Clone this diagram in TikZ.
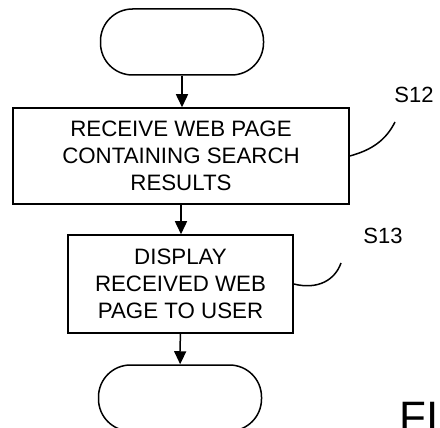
\documentclass[tikz,border=0pt]{standalone}
\usepackage{fontspec}
\setmainfont{Liberation Sans}
\usetikzlibrary{arrows.meta}

\tikzset{
  terminal/.style={draw,rounded corners=32pt,minimum width=163pt,minimum height=66pt,inner sep=0pt},
  stepbox/.style={draw,align=center,inner sep=0pt,font=\fontsize{22.3}{26.7}\selectfont},
  flow/.style={-{Triangle[length=13pt,width=12pt]}},
  steplabel/.style={font=\fontsize{22}{24}\selectfont}
}

\begin{document}
\begin{tikzpicture}[x=1pt,y=-1pt,line width=1.5pt]
        \useasboundingbox (0,0) rectangle (440,428);
        \clip (0,0) rectangle (440,428);

        % Start
        \node[terminal] (start) at (182,42) {};

        % Step S12
        \node[stepbox,minimum width=336pt,minimum height=96pt] (recv) at (181,156)
          {RECEIVE WEB PAGE\\CONTAINING SEARCH\\RESULTS};
        \node[steplabel] (s12) at (414,95) {S12};
        \coordinate (s12end) at (395,122);
        \draw (recv.east) .. controls (372,150) and (386,140) .. (s12end);

        % Step S13
        \node[stepbox,minimum width=225pt,minimum height=98pt] (show) at (180.5,284)
          {DISPLAY\\RECEIVED WEB\\PAGE TO USER};
        \node[steplabel] (s13) at (383,236) {S13};
        \coordinate (s13end) at (341,263);
        \draw (show.east) .. controls (318,290) and (335,280) .. (s13end);

        % End
        \node[terminal] (stop) at (180,398) {};

        % Flow arrows
        \draw[flow] (start) -- (recv.north -| start);
        \draw[flow] (recv) -- (show.north -| recv);
        \draw[flow] (show) -- (stop);

        % Figure caption (cut off)
        \node[anchor=base west,font=\fontsize{44}{48}\selectfont,inner sep=0pt] (fig) at (398.5,432.5) {FIG.};
\end{tikzpicture}
\end{document}
